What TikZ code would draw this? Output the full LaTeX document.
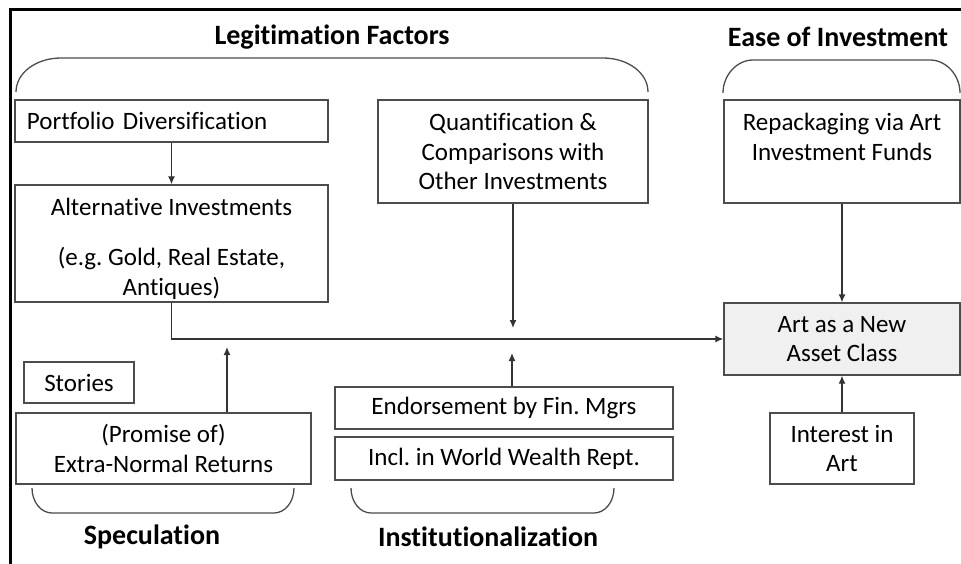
\documentclass[tikz,border=0pt]{standalone}
\usepackage{fontspec}
\setmainfont{Carlito}[Ligatures=NoCommon]
\usetikzlibrary{arrows.meta}
\frenchspacing

\begin{document}
\begin{tikzpicture}[x=1pt,y=-1pt,
	box/.style={draw=black!70,line width=1.3pt,align=center,inner sep=2pt,font=\fontsize{25}{29.5}\selectfont},
	title/.style={font=\fontsize{28}{34}\selectfont\bfseries},
	brace/.style={draw=black!70,line width=1.3pt},
	arr/.style={draw=black!80,line width=1.3pt,-{Latex[length=8pt,width=7pt]}}]
	\useasboundingbox (0,0) rectangle (961,564);
	\draw[line width=3pt] (10,564) -- (10,10) -- (961,10);
	\node[title] (legit) at (332,37) {Legitimation Factors};
	\node[title] (ease) at (838,37) {Ease of Investment};
	\node[title] (spec) at (152,537) {Speculation};
	\node[title] (inst) at (488,537) {Institutionalization};
	\draw[brace] (16,92) .. controls (16,73) and (36,58) .. (61,58) -- (603,58) .. controls (628,58) and (648,73) .. (648,92);
	\draw[brace] (723,93) .. controls (723,75) and (737,60) .. (753,60) -- (930,60) .. controls (946,60) and (960,75) .. (960,93);
	\draw[brace] (32,488) .. controls (32,502) and (41,513) .. (52,513) -- (274,513) .. controls (285,513) and (294,502) .. (294,488);
	\draw[brace] (351,488) .. controls (351,502) and (360,513) .. (371,513) -- (594,513) .. controls (605,513) and (614,502) .. (614,488);
	\node[box,minimum width=313pt,minimum height=42pt,text width=289pt,align=left] (portfolio) at (171.5,121) {Portfolio Diversification};
	\node[box,minimum width=313pt,minimum height=117pt] (altinv) at (171.5,243.5) {\rule{0pt}{28pt}Alternative Investments\\[21pt](e.g. Gold, Real Estate,\\Antiques)};
	\node[box,minimum width=270pt,minimum height=103pt] (quant) at (513,151.5) {Quantification \&\\Comparisons with\\Other Investments};
	\node[box,minimum width=236pt,minimum height=103pt] (repack) at (842,151.5) {Repackaging via Art\\Investment Funds\\\mbox{}};
	\node[box,minimum width=236pt,minimum height=72pt,fill=black!6] (art) at (842,339) {Art as a New\\Asset Class};
	\node[box,minimum width=110pt,minimum height=41pt] (stories) at (79,382.5) {Stories};
	\node[box,minimum width=295pt,minimum height=71pt] (promise) at (163.5,448.5) {(Promise of)\\Extra-Normal Returns};
	\node[box,minimum width=338pt,minimum height=42pt] (endorse) at (504,408) {Endorsement by Fin. Mgrs};
	\node[box,minimum width=338pt,minimum height=43pt] (incl) at (504,458.5) {Incl. in World Wealth Rept.};
	\node[box,minimum width=144pt,minimum height=71pt] (interest) at (842,448.5) {Interest in\\Art};
	\coordinate (qend) at (513,328);
	\coordinate (send) at (227,347);
	\coordinate (iend) at (512,353);
	\draw[arr] (portfolio.south) -- (altinv.north);
	\draw[arr] (altinv.south) |- (art.west);
	\draw[arr] (quant.south) -- (qend);
	\draw[arr] (send |- promise.north) -- (send);
	\draw[arr] (iend |- endorse.north) -- (iend);
	\draw[arr] (repack.south) -- (art.north);
	\draw[arr] (interest.north) -- (art.south);
\end{tikzpicture}
\end{document}
